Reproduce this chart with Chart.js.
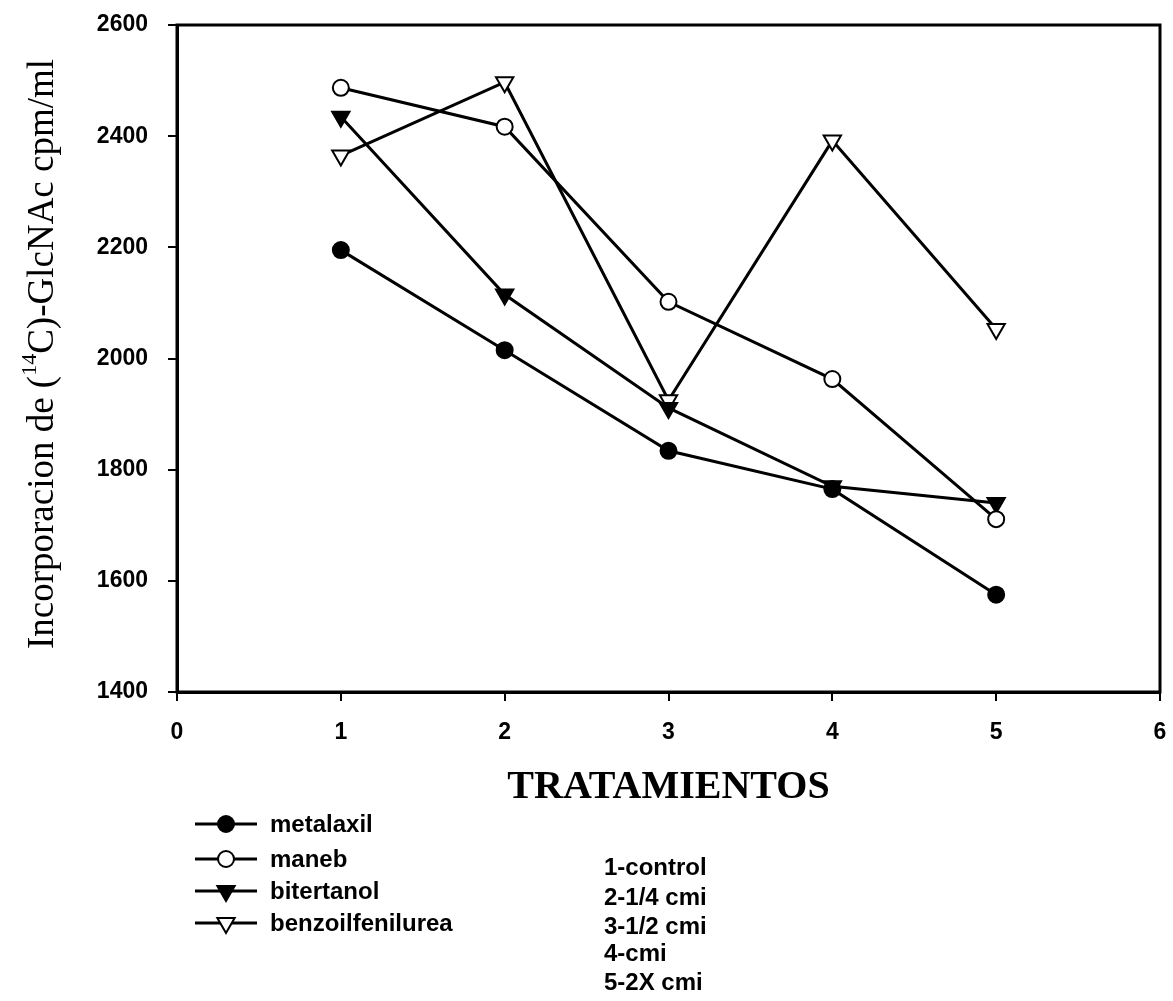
<!DOCTYPE html>
<html>
<head>
<meta charset="utf-8">
<script src="https://cdn.jsdelivr.net/npm/chart.js@4/dist/chart.umd.min.js"></script>
<style>
  html, body { margin: 0; padding: 0; background: #fff; }
  canvas { display: block; }
</style>
</head>
<body>
<canvas id="chart" width="1173" height="1001"></canvas>
<script>
const treatments = [1, 2, 3, 4, 5];
const seriesNames = ["metalaxil", "maneb", "bitertanol", "benzoilfenilurea"];
const metalaxil = [2195, 2015, 1834, 1765, 1575];
const maneb = [2487, 2417, 2102, 1963, 1711];
const bitertanol = [2435, 2115, 1911, 1770, 1740];
const benzoilfenilurea = [2365, 2497, 1925, 2392, 2053];
const notes = ["1-control", "2-1/4 cmi", "3-1/2 cmi", "4-cmi", "5-2X cmi"];
const xTitle = "TRATAMIENTOS";

const markers = [
    { style: "circle", fill: "#000", radius: 8, rotation: 0 },
    { style: "circle", fill: "#fff", radius: 8, rotation: 0 },
    { style: "triangle", fill: "#000", radius: 10, rotation: 180 },
    { style: "triangle", fill: "#fff", radius: 10, rotation: 180 }
];

function toPoints(values) {
    return treatments.map((t, i) => ({ x: t, y: values[i] }));
}

const allSeries = [metalaxil, maneb, bitertanol, benzoilfenilurea];

const datasets = allSeries.map((values, i) => ({
    label: seriesNames[i],
    data: toPoints(values),
    borderColor: "#000",
    borderWidth: 3,
    pointStyle: markers[i].style,
    pointRotation: markers[i].rotation,
    pointRadius: markers[i].radius,
    pointBackgroundColor: markers[i].fill,
    pointBorderColor: "#000",
    pointBorderWidth: 2,
    fill: false,
    tension: 0
}));

function drawMarker(ctx, m, x, y) {
    ctx.beginPath();
    if (m.style === "circle") {
        ctx.arc(x, y, m.radius, 0, Math.PI * 2);
    } else {
        const r = m.radius;
        ctx.moveTo(x, y + r);
        ctx.lineTo(x - r * Math.sin(Math.PI / 3), y - r / 2);
        ctx.lineTo(x + r * Math.sin(Math.PI / 3), y - r / 2);
        ctx.closePath();
    }
    ctx.fillStyle = m.fill;
    ctx.fill();
    ctx.lineWidth = 2;
    ctx.strokeStyle = "#000";
    ctx.stroke();
}

const framePlugin = {
    id: "frame",
    beforeDatasetsDraw(chart) {
        const { ctx, chartArea: a } = chart;
        ctx.save();
        ctx.strokeStyle = "#000";
        ctx.lineWidth = 3;
        ctx.strokeRect(a.left, a.top, a.right - a.left, a.bottom - a.top);
        ctx.restore();
    }
};

const textPlugin = {
    id: "texts",
    afterDraw(chart) {
        const ctx = chart.ctx;
        const a = chart.chartArea;
        ctx.save();
        ctx.fillStyle = "#000";

        // y axis title with superscript
        const main = "37px 'Liberation Serif', 'Times New Roman', serif";
        const sup = "22px 'Liberation Serif', 'Times New Roman', serif";
        const p1 = "Incorporacion de (";
        const p2 = "14";
        const p3 = "C)-GlcNAc cpm/ml";
        ctx.font = main;
        const w1 = ctx.measureText(p1).width;
        const w3 = ctx.measureText(p3).width;
        ctx.font = sup;
        const w2 = ctx.measureText(p2).width;
        const total = w1 + w2 + w3;
        ctx.translate(43, 354);
        ctx.rotate(-Math.PI / 2);
        ctx.textBaseline = "middle";
        ctx.textAlign = "left";
        let x = -total / 2;
        ctx.font = main;
        ctx.fillText(p1, x, 0);
        x += w1;
        ctx.font = sup;
        ctx.fillText(p2, x, -13);
        x += w2;
        ctx.font = main;
        ctx.fillText(p3, x, 0);
        ctx.setTransform(1, 0, 0, 1, 0, 0);

        // x axis title
        ctx.font = "bold 40px 'Liberation Serif', 'Times New Roman', serif";
        ctx.textAlign = "center";
        ctx.textBaseline = "middle";
        ctx.fillText(xTitle, (a.left + a.right) / 2, 788);

        // legend
        const legendY = [824, 859, 891, 923];
        ctx.font = "bold 24px 'Liberation Sans', Arial, sans-serif";
        ctx.textAlign = "left";
        seriesNames.forEach((name, i) => {
            const y = legendY[i];
            ctx.beginPath();
            ctx.moveTo(195, y);
            ctx.lineTo(257, y);
            ctx.lineWidth = 3;
            ctx.strokeStyle = "#000";
            ctx.stroke();
            drawMarker(ctx, markers[i], 226, y);
            ctx.fillStyle = "#000";
            ctx.fillText(name, 270, y + 1);
        });

        // treatment notes
        const noteY = [868, 898, 927, 954, 983];
        notes.forEach((n, i) => {
            ctx.fillText(n, 604, noteY[i]);
        });
        ctx.restore();
    }
};

const tickFont = { family: "'Liberation Sans', Arial, sans-serif", size: 23, weight: "bold" };

new Chart(document.getElementById("chart"), {
    type: "line",
    data: { datasets },
    options: {
        responsive: false,
        animation: false,
        devicePixelRatio: 1,
        layout: { padding: { top: 25, right: 13, left: 0, bottom: 0 } },
        plugins: { legend: { display: false }, tooltip: { enabled: false } },
        scales: {
            x: {
                type: "linear",
                min: 0,
                max: 6,
                ticks: { stepSize: 1, color: "#000", font: tickFont, padding: 18 },
                grid: { drawOnChartArea: false, color: "#000", lineWidth: 2, tickLength: 9 },
                border: { color: "#000", width: 3 },
                afterFit(scale) {
                    scale.height = 309;
                    scale.paddingRight = 0;
                    scale.paddingLeft = 0;
                }
            },
            y: {
                min: 1400,
                max: 2600,
                ticks: { stepSize: 200, color: "#000", font: tickFont, padding: 20, callback: v => String(v) },
                grid: { drawOnChartArea: false, color: "#000", lineWidth: 2, tickLength: 9 },
                border: { color: "#000", width: 3 },
                afterFit(scale) {
                    scale.width = 177;
                    scale.paddingTop = 0;
                    scale.paddingBottom = 0;
                }
            }
        }
    },
    plugins: [framePlugin, textPlugin]
});
</script>
</body>
</html>
